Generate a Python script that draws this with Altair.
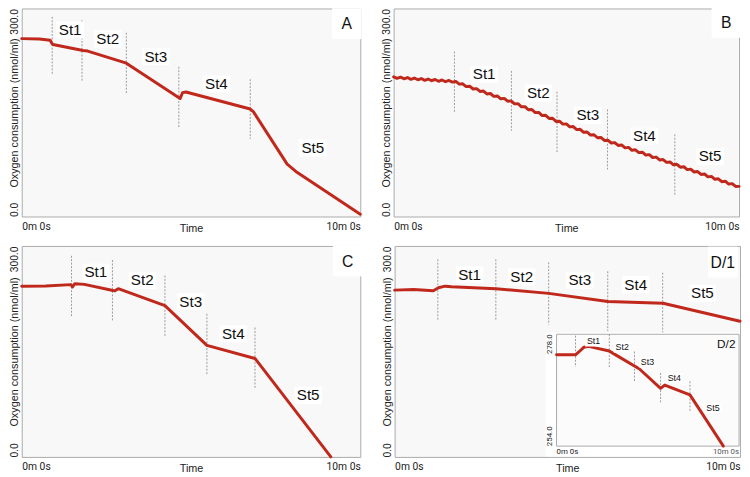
import altair as alt
import pandas as pd

# ---------------- data ----------------
STEPS = ["St1", "St2", "St3", "St4", "St5"]
X_DOMAIN = [0, 10]
Y_DOMAIN = [0, 300]
INSET_Y_DOMAIN = [254, 278]
X_TICKS = [0, 10]
Y_TICKS = [0, 300]

# Panel A
A_t = [0, 0.52, 0.84, 0.88, 0.92, 1.81, 1.95, 3.09, 4.61, 4.68, 4.75, 4.85, 6.75, 6.84, 7.84, 8.13, 10]
A_v = [256.5, 256.1, 254.2, 250.4, 248.0, 239.5, 238.6, 221.1, 172.4, 170.1, 178.6, 179.5, 155.0, 151.2, 75.6, 63.8, 3.3]
A_cut_t = [0.9, 1.78, 3.09, 4.64, 6.75]
A_cut_top = [288, 283, 265, 216, 198]
A_cut_bot = [205, 195, 178, 128, 112]
A_lab_t = [1.43, 2.54, 3.96, 5.75, 8.6]
A_lab_v = [269, 256, 230.5, 191, 99]

# Panel B (wavy trace, sampled every 0.1 min)
B_t = [i / 10 for i in range(101)]
B_v = [201.5, 199.3, 201.0, 198.6, 200.4, 197.8, 199.7, 197.2, 199.0, 196.4,
       198.3, 195.8, 197.6, 195.0, 196.9, 194.4, 196.2, 193.8, 194.8, 190.9,
       191.4, 187.3, 187.9, 183.9, 184.4, 180.3, 180.9, 176.8, 177.4, 173.3,
       173.9, 169.8, 170.4, 166.3, 166.8, 162.4, 162.7, 158.2, 158.5, 154.0,
       154.3, 149.8, 150.1, 145.6, 145.9, 141.4, 141.7, 137.1, 137.5, 133.2,
       133.6, 129.3, 129.7, 125.3, 125.8, 121.4, 121.9, 117.5, 117.9, 113.6,
       114.0, 109.7, 110.1, 106.0, 106.6, 102.5, 103.2, 99.0, 99.7, 95.5,
       96.2, 92.1, 92.7, 88.6, 89.2, 85.1, 85.7, 81.6, 82.2, 78.1,
       78.7, 74.6, 75.3, 71.1, 71.8, 67.6, 68.3, 64.2, 64.8, 60.7,
       61.3, 57.2, 57.9, 53.7, 54.4, 50.2, 50.9, 46.8, 47.4, 43.3,
       43.5]
B_cut_t = [1.76, 3.41, 4.73, 6.19, 8.14]
B_cut_top = [238, 210, 180, 154.5, 118.5]
B_cut_bot = [150.7, 123.6, 91.5, 67.8, 30.8]
B_lab_t = [2.62, 4.19, 5.62, 7.26, 9.16]
B_lab_v = [205, 178, 146, 116, 86.7]

# Panel C
C_t = [0, 0.71, 1.45, 1.5, 1.57, 1.85, 2.66, 2.74, 2.85, 4.23, 5.47, 6.89, 9.13]
C_v = [242.6, 243.1, 245.0, 241.7, 246.3, 245.4, 237.0, 236.1, 239.3, 215.1, 158.6, 140.0, 0.0]
C_cut_t = [1.47, 2.68, 4.23, 5.47, 6.89]
C_cut_top = [286, 280, 258, 203.5, 184]
C_cut_bot = [198.8, 193.6, 170.8, 116.6, 97]
C_lab_t = [2.19, 3.56, 4.99, 6.25, 8.46]
C_lab_v = [262.7, 251, 220.7, 175, 87.7]

# Panel D/1
D1_t = [0, 0.55, 1.12, 1.27, 1.46, 1.65, 2.93, 4.46, 6.17, 7.77, 10]
D1_v = [237.2, 238.1, 236.3, 240.5, 242.8, 241.9, 239.1, 232.6, 220.9, 218.6, 193.0]
D1_cut_t = [1.25, 2.93, 4.46, 6.17, 7.76]
D1_cut_top = [281, 281, 276.7, 264, 262]
D1_cut_bot = [194, 195, 188, 179, 176.7]
D1_lab_t = [2.17, 3.68, 5.36, 6.98, 8.91]
D1_lab_v = [259, 256, 251, 245, 232.6]

# Inset D/2
D2_t = [0, 1.04, 1.22, 1.49, 1.76, 2.89, 3.1, 4.27, 4.53, 5.7, 5.93, 7.31, 9.14]
D2_v = [273.6, 273.6, 274.2, 275.2, 275.4, 274.4, 273.9, 271.2, 270.6, 266.4, 267.1, 265.0, 254.0]
D2_cut_t = [1.04, 2.89, 4.27, 5.7, 7.31]
D2_cut_top = [277.7, 278, 274.3, 269.7, 267.9]
D2_cut_bot = [271, 270.7, 267.9, 263.2, 261.5]
D2_lab_t = [2.03, 3.6, 4.98, 6.45, 8.57]
D2_lab_v = [276.5, 275.2, 272, 268.6, 262.2]

# panel letters: (t, value)
LETTERS = {"A": (9.6, 277), "B": (9.63, 279), "C": (9.63, 277.7), "D/1": (9.5, 276), "D/2": (9.3, 275.8)}

# ---------------- styles ----------------
RED = "#c0281c"
CUT = "#9a9a9a"
TXT = "#111111"
LBL_FONT = "Liberation Sans"
TICK_FONT = "Roboto"
BOX = "M-1,-0.62H1V0.62H-1Z"
LETTER_BOX = "M-1,-1.1H1V1H-1Z"


def x_axis():
    return alt.Axis(values=X_TICKS, labelExpr="datum.value == 0 ? '0m 0s' : '10m 0s'",
                    labelFlush=True, labelPadding=5, labelFont=TICK_FONT, labelFontSize=10.5,
                    labelColor="#222", labelAngle=0, ticks=False, domain=False, grid=False,
                    title="Time", titleFont=LBL_FONT, titleFontSize=11, titleFontWeight="normal",
                    titleColor="#222", titleBaseline="top", titleY=6)


def y_axis(H):
    return alt.Axis(values=Y_TICKS, format=".1f", labelAngle=270,
                    labelAlign={"condition": {"test": "datum.value > 0", "value": "right"}, "value": "left"},
                    labelBaseline="bottom", labelFlush=False, labelPadding=2,
                    labelFont=TICK_FONT, labelFontSize=10.5, labelColor="#222",
                    ticks=False, domain=False, grid=False,
                    title="Oxygen consumption (nmol/ml)", titleAngle=270, titleAlign="center",
                    titleBaseline="bottom", titleX=-2, titleY=H / 2, titleFont=LBL_FONT,
                    titleFontSize=11, titleFontWeight="normal", titleColor="#222")


def step_layers(xs, ys, tr_t, tr_v, cut_t, cut_top, cut_bot, lab_t, lab_v, letter,
                font_size, letter_size, box_size, letter_box_size, axes=None, line_w=3):
    trace = pd.DataFrame({"t": tr_t, "v": tr_v})
    cuts = pd.DataFrame({"t": cut_t, "top": cut_top, "bot": cut_bot})
    labs = pd.DataFrame({"t": lab_t, "v": lab_v, "s": STEPS})
    lt, lv = LETTERS[letter]
    let = pd.DataFrame({"t": [lt], "v": [lv], "s": [letter]})

    xa, ya = axes if axes else (None, None)
    rules = alt.Chart(cuts).mark_rule(color=CUT, strokeWidth=1, strokeDash=[2, 1.5]).encode(
        x=alt.X("t:Q", scale=xs, axis=None), y=alt.Y("top:Q", scale=ys, axis=None), y2="bot:Q")
    line = alt.Chart(trace).mark_line(color=RED, strokeWidth=line_w, strokeJoin="round", strokeCap="round").encode(
        x=alt.X("t:Q", scale=xs, axis=xa), y=alt.Y("v:Q", scale=ys, axis=ya))
    boxes = alt.Chart(labs).mark_point(shape=BOX, filled=True, fill="white", opacity=1, strokeWidth=0,
                                       size=box_size).encode(
        x=alt.X("t:Q", scale=xs, axis=None), y=alt.Y("v:Q", scale=ys, axis=None))
    texts = alt.Chart(labs).mark_text(font=LBL_FONT, fontSize=font_size, color=TXT).encode(
        x=alt.X("t:Q", scale=xs, axis=None), y=alt.Y("v:Q", scale=ys, axis=None), text="s:N")
    lbox = alt.Chart(let).mark_point(shape=LETTER_BOX, filled=True, fill="white", opacity=1, strokeWidth=0,
                                     size=letter_box_size).encode(
        x=alt.X("t:Q", scale=xs, axis=None), y=alt.Y("v:Q", scale=ys, axis=None))
    ltext = alt.Chart(let).mark_text(font=LBL_FONT, fontSize=letter_size, color=TXT).encode(
        x=alt.X("t:Q", scale=xs, axis=None), y=alt.Y("v:Q", scale=ys, axis=None), text="s:N")
    return [rules, line, boxes, texts, lbox, ltext]


def panel(W, H, tr_t, tr_v, cut_t, cut_top, cut_bot, lab_t, lab_v, letter, inset=False):
    xs = alt.Scale(domain=X_DOMAIN, nice=False, zero=False)
    ys = alt.Scale(domain=Y_DOMAIN, nice=False, zero=False)
    layers = step_layers(xs, ys, tr_t, tr_v, cut_t, cut_top, cut_bot, lab_t, lab_v, letter,
                         15.5, 16, 784, 900, axes=(x_axis(), y_axis(H)))
    if inset:
        ixs = alt.Scale(domain=X_DOMAIN, range=[W - 187, W - 1], nice=False, zero=False)
        iys = alt.Scale(domain=INSET_Y_DOMAIN, range=[H - 11, H - 125], nice=False, zero=False)
        wbox = alt.Chart(pd.DataFrame({"x1": [-0.6], "x2": [10.05], "y1": [251.8], "y2": [278.4]})).mark_rect(
            fill="white").encode(x=alt.X("x1:Q", scale=ixs, axis=None), x2="x2:Q",
                                 y=alt.Y("y1:Q", scale=iys, axis=None), y2="y2:Q")
        frame = alt.Chart(pd.DataFrame({"x1": [X_DOMAIN[0]], "x2": [X_DOMAIN[1]],
                                        "y1": [INSET_Y_DOMAIN[0]], "y2": [INSET_Y_DOMAIN[1]]})).mark_rect(
            fill="#fbfbfb", stroke="#aaaaaa", strokeWidth=1).encode(
            x=alt.X("x1:Q", scale=ixs, axis=None), x2="x2:Q",
            y=alt.Y("y1:Q", scale=iys, axis=None), y2="y2:Q")
        inner = step_layers(ixs, iys, D2_t, D2_v, D2_cut_t, D2_cut_top, D2_cut_bot, D2_lab_t, D2_lab_v,
                            "D/2", 9, 12, 300, 10, axes=None, line_w=3)
        ticks_y = pd.DataFrame({"t": [-0.12, -0.12], "v": INSET_Y_DOMAIN[::-1], "s": ["278.0", "254.0"]})
        ty_top = alt.Chart(ticks_y.iloc[:1]).mark_text(font=TICK_FONT, fontSize=8, color="#222", angle=270,
                                                       align="right", baseline="bottom").encode(
            x=alt.X("t:Q", scale=ixs, axis=None), y=alt.Y("v:Q", scale=iys, axis=None), text="s:N")
        ty_bot = alt.Chart(ticks_y.iloc[1:]).mark_text(font=TICK_FONT, fontSize=8, color="#222", angle=270,
                                                       align="left", baseline="bottom").encode(
            x=alt.X("t:Q", scale=ixs, axis=None), y=alt.Y("v:Q", scale=iys, axis=None), text="s:N")
        ticks_x = pd.DataFrame({"t": X_TICKS, "v": [253.5, 253.5], "s": ["0m 0s", "10m 0s"]})
        tx_l = alt.Chart(ticks_x.iloc[:1]).mark_text(font=TICK_FONT, fontSize=8, color="#222",
                                                     align="left", baseline="top").encode(
            x=alt.X("t:Q", scale=ixs, axis=None), y=alt.Y("v:Q", scale=iys, axis=None), text="s:N")
        tx_r = alt.Chart(ticks_x.iloc[1:]).mark_text(font=TICK_FONT, fontSize=8, color="#555",
                                                     align="right", baseline="top").encode(
            x=alt.X("t:Q", scale=ixs, axis=None), y=alt.Y("v:Q", scale=iys, axis=None), text="s:N")
        layers += [wbox, frame] + inner + [ty_top, ty_bot, tx_l, tx_r]
    return alt.layer(*layers).resolve_scale(x="independent", y="independent").properties(width=W, height=H)


pA = panel(345, 212, A_t, A_v, A_cut_t, A_cut_top, A_cut_bot, A_lab_t, A_lab_v, "A")
pB = panel(352, 212, B_t, B_v, B_cut_t, B_cut_top, B_cut_bot, B_lab_t, B_lab_v, "B")
pC = panel(345, 215, C_t, C_v, C_cut_t, C_cut_top, C_cut_bot, C_lab_t, C_lab_v, "C")
pD = panel(352, 215, D1_t, D1_v, D1_cut_t, D1_cut_top, D1_cut_bot, D1_lab_t, D1_lab_v, "D/1", inset=True)

chart = alt.vconcat(
    alt.hconcat(pA, pB, spacing=18),
    alt.hconcat(pC, pD, spacing=18),
    spacing=10,
).properties(padding={"top": -7, "left": 0, "right": 0, "bottom": 0}).configure(
    background="white").configure_view(fill="#f8f8f8", stroke="#aaaaaa", strokeWidth=1)

chart.save("out.html", embed_options={"renderer": "svg", "actions": False})
